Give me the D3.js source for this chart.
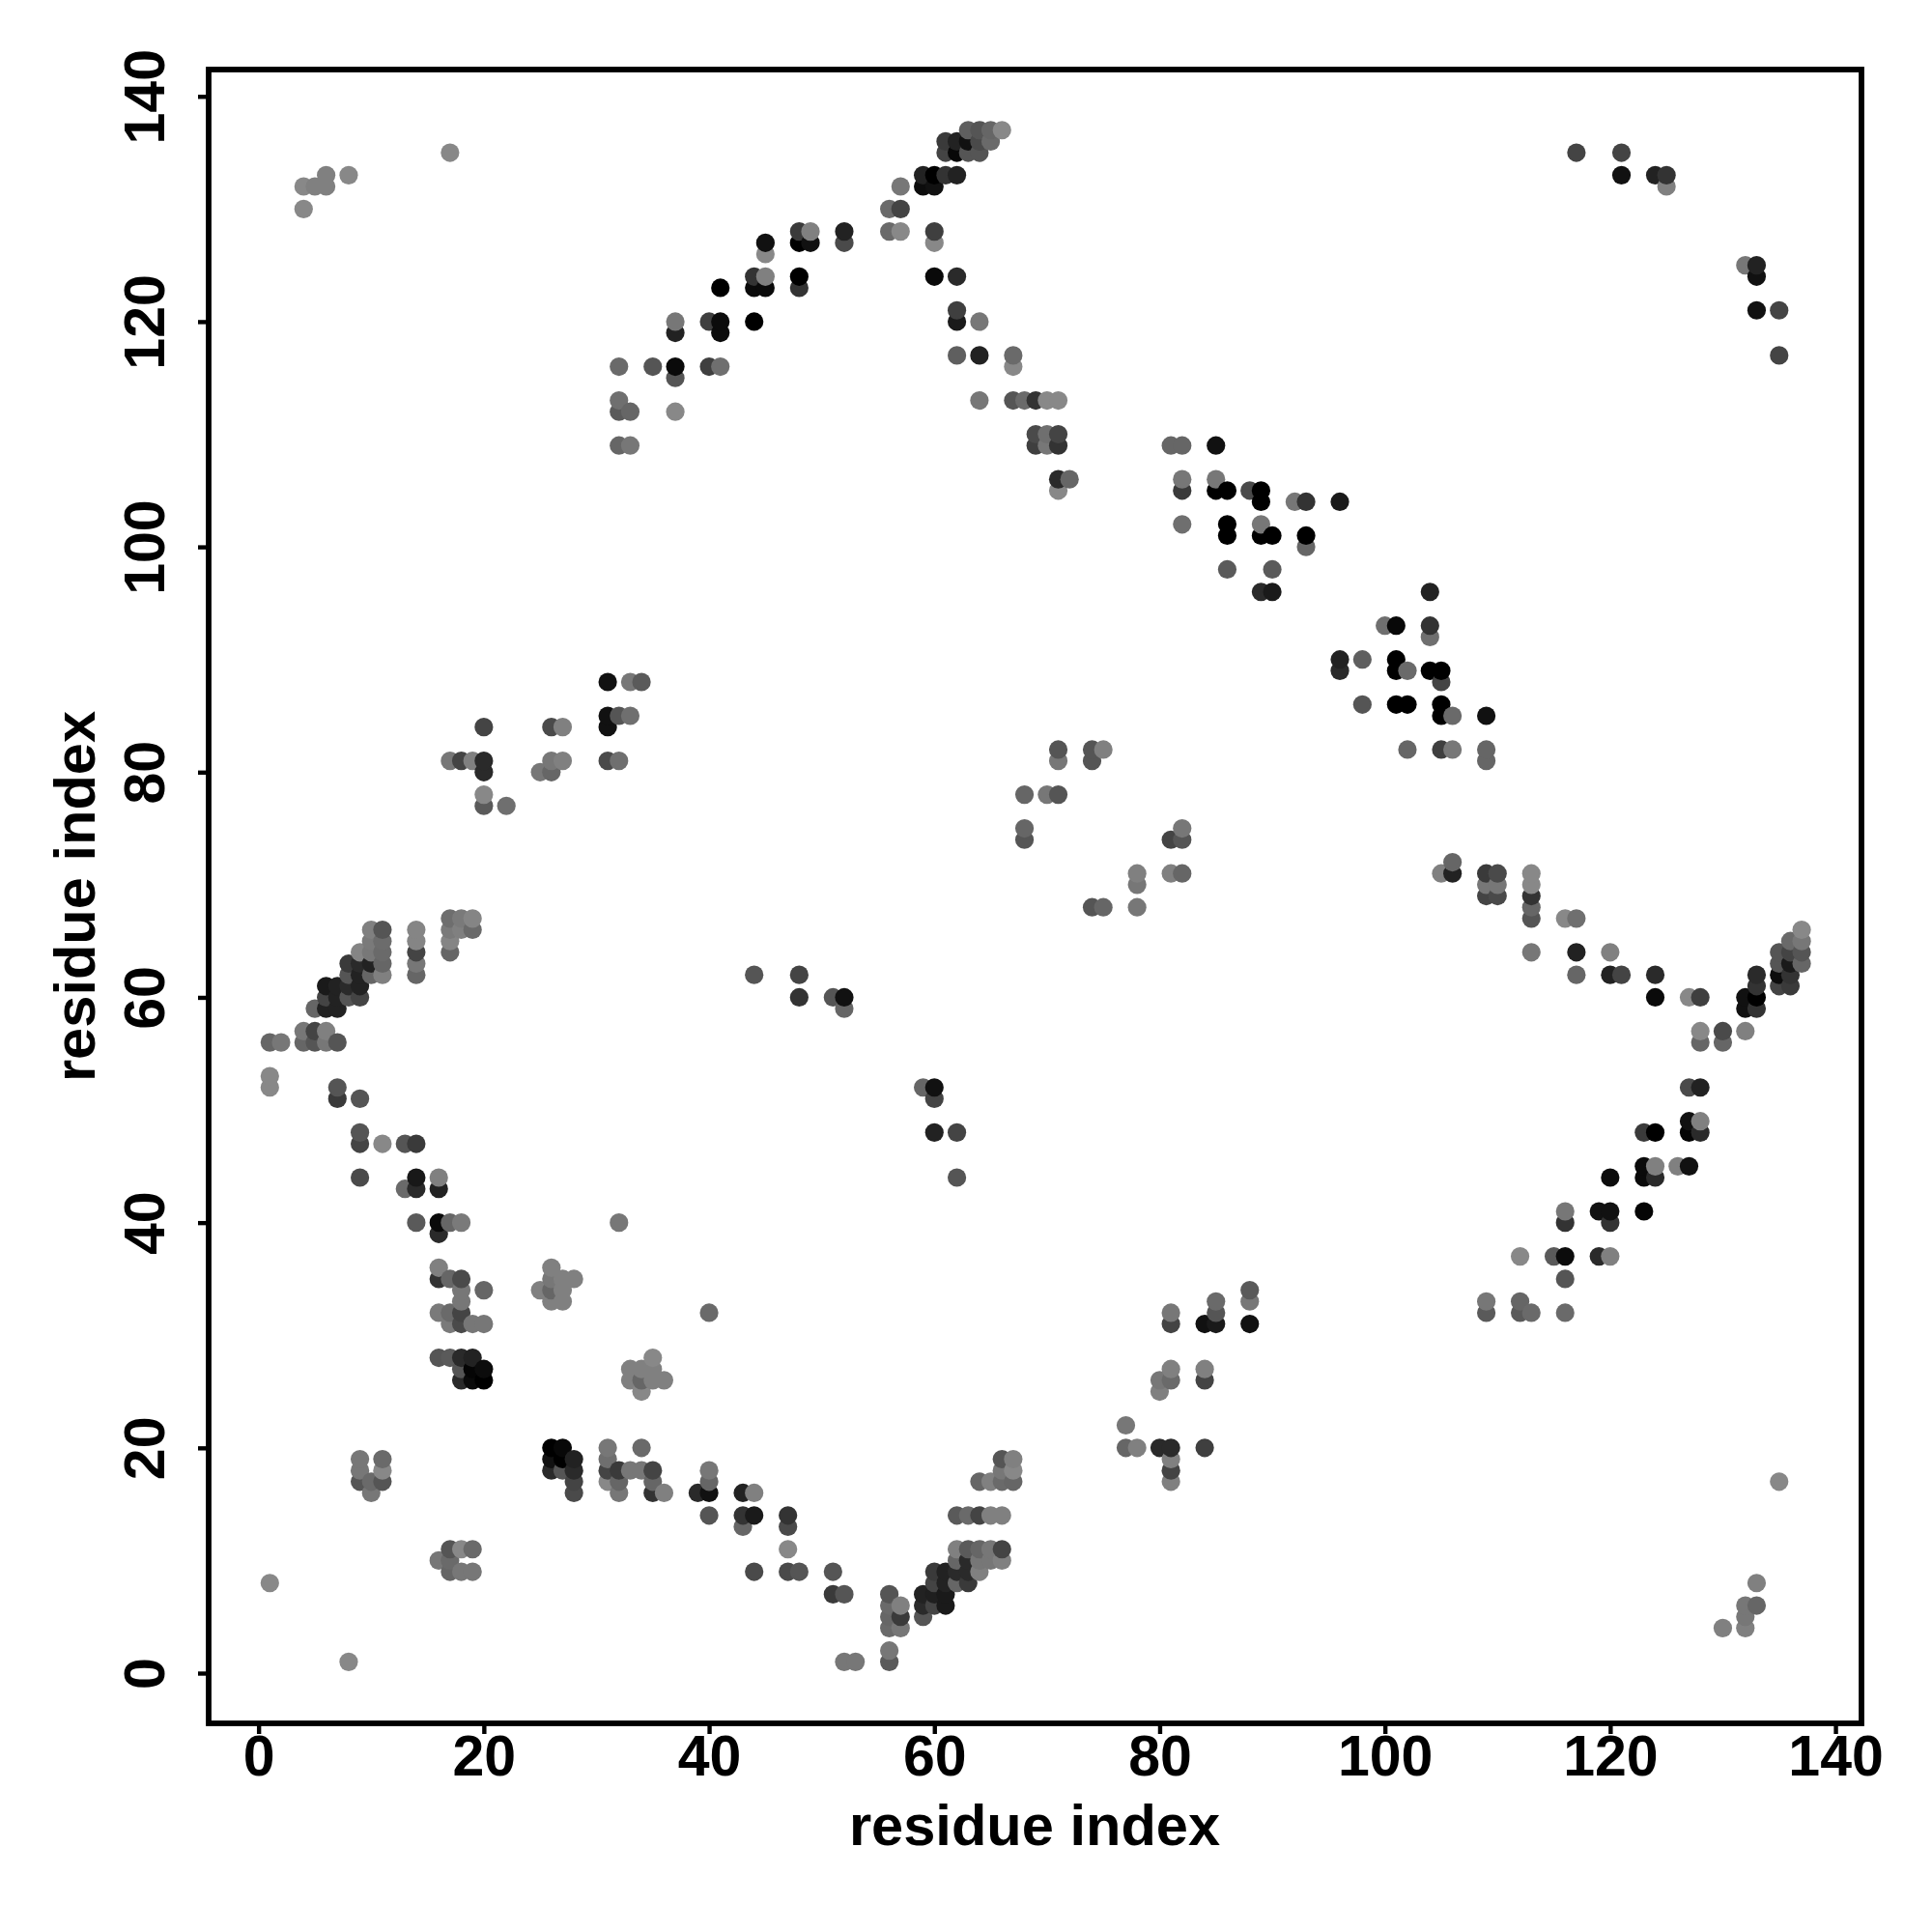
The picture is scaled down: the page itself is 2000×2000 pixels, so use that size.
<!DOCTYPE html>
<html>
<head>
<meta charset="utf-8">
<script src="https://cdn.jsdelivr.net/npm/d3@7/dist/d3.min.js"></script>
<style>
html,body{margin:0;padding:0;background:#fff}
svg{display:block}
text{font-family:"Liberation Sans",Arial,sans-serif;font-weight:bold;fill:#000}
</style>
</head>
<body>
<svg id="chart" width="2000" height="2000"></svg>
<script>
// Each contact: [residue index x, residue index y, grey level]
const helixOneContacts = [
[17,67,110],[18,67,122],[19,67,133],[10,66,128],[11,66,85],[14,66,133],[17,66,122],[18,66,128],[19,66,106],
[10,65,122],[11,65,108],[14,65,133],[17,65,133],[9,64,133],[10,64,120],[11,64,106],[14,64,68],[17,64,102],
[8,63,58],[9,63,42],[10,63,34],[11,63,102],[14,63,119],[8,62,85],[9,62,34],[10,62,102],[11,62,128],[14,62,102],
[6,61,26],[7,61,34],[8,61,42],[9,61,34],[6,60,68],[7,60,34],[8,60,85],[9,60,68],[5,59,102],[6,59,34],[7,59,34],
[4,57,119],[5,57,68],[6,57,128],[1,56,102],[2,56,119],[4,56,102],[5,56,85],[6,56,119],[7,56,85],
[1,53,136],[1,52,136],[7,52,85],[7,51,58],[9,51,85],[9,48,85],[9,47,68],[11,47,136],[13,47,85],[14,47,58],
[9,44,74],[13,43,106],[14,44,24],[14,43,42],[16,44,128],[16,43,34],[14,40,90],[16,40,10],[16,39,42],[17,40,102],[18,40,122]
];
const lowerLeftContacts = [
[16,36,128],[16,35,51],[17,35,102],[18,35,74],[18,34,119],[20,34,102],[18,33,119],[16,32,122],[17,32,106],[18,32,68],
[17,31,122],[18,31,74],[19,31,119],[20,31,119],[16,28,85],[17,28,90],[18,28,42],[19,28,34],[18,27,85],[19,27,5],[20,27,12],
[18,26,42],[19,26,10],[20,26,0],[26,36,128],[26,35,119],[27,35,128],[28,35,128],[25,34,128],[26,34,102],[27,34,128],
[26,33,128],[27,33,128],[35,28,136],[33,27,128],[34,27,128],[35,27,128],[33,26,128],[34,26,102],[35,26,128],[36,26,128],[34,25,136],
[32,40,119],[40,32,106],[9,19,119],[9,18,119],[9,17,85],[10,17,106],[10,16,119],[11,19,106],[11,18,136],[11,17,85],
[16,10,119],[17,11,85],[17,10,106],[17,9,102],[18,11,136],[18,9,119],[19,11,106],[19,9,119],[1,8,136],[8,1,136]
];
const lowerStrandContacts = [
[26,20,0],[27,20,8],[26,19,17],[27,19,0],[28,19,34],[26,18,42],[27,18,85],[28,18,42],[28,17,68],[28,16,74],
[31,20,119],[31,19,111],[31,18,68],[31,17,136],[32,18,58],[32,17,102],[32,16,119],[33,18,119],[34,20,106],[34,18,119],
[35,18,68],[35,17,102],[35,16,51],[36,16,128],[40,18,119],[40,17,102],[39,16,42],[40,16,17],[40,14,85],[43,16,34],[44,16,128],
[43,14,51],[44,14,26],[43,13,102],[47,14,51],[47,13,74],[47,11,136],[44,9,74],[47,9,74],[48,9,85],[51,9,85],[51,7,58],[52,7,85],
[56,7,85],[56,6,106],[57,6,128],[56,5,102],[57,5,58],[56,4,106],[57,4,119],[52,1,119],[53,1,119],[56,2,119],[56,1,90],
[59,7,34],[59,6,42],[59,5,85],[60,9,58],[60,8,68],[60,7,31],[60,6,68],[61,9,34],[61,8,34],[61,7,26],[61,6,26],
[62,11,128],[62,10,102],[62,9,42],[62,8,102],[63,11,90],[63,10,42],[63,9,42],[63,8,58],[64,11,102],[64,10,119],[64,9,128],
[65,11,119],[65,10,119],[66,11,68],[66,10,128],[62,14,90],[63,14,106],[64,14,68],[65,14,128],[66,14,128],
[64,17,102],[65,17,128],[66,17,106],[67,17,102],[66,18,119],[67,18,136],[66,19,85],[67,19,128]
];
const lowerRightContacts = [
[81,32,119],[81,31,68],[84,31,17],[85,33,106],[85,32,85],[85,31,26],[88,34,90],[88,33,119],[88,31,17],
[81,27,128],[80,26,119],[81,26,106],[80,25,128],[84,27,128],[84,26,68],[77,22,119],[77,20,102],[78,20,128],
[80,20,42],[81,20,42],[81,19,128],[81,18,68],[81,17,128],[84,20,63],
[109,33,119],[109,32,90],[112,33,102],[112,32,90],[113,32,106],[116,32,106],[116,35,85],[112,37,136],[115,37,90],[116,37,12],
[119,37,42],[120,37,128],[116,41,119],[116,40,51],[119,41,17],[120,41,17],[120,40,51],[123,41,5],[120,44,12],
[123,45,10],[124,45,128],[123,44,10],[124,44,42],[126,45,128],[127,45,17],[123,48,58],[124,48,0],[127,49,17],[128,49,128],
[127,48,5],[128,48,42],[135,17,136],[130,4,128],[132,4,128],[132,5,119],[132,6,119],[133,6,102],[133,8,128]
];
const rightArmContacts = [
[105,71,128],[106,72,102],[106,71,34],[109,71,58],[110,71,74],[113,71,136],[109,70,119],[110,70,119],[113,70,136],
[109,69,68],[110,69,74],[113,69,51],[113,68,102],[113,67,85],[116,67,136],[117,67,111],[113,64,119],[117,64,34],[120,64,128],
[117,62,102],[120,62,34],[121,62,68],[124,62,42],[124,60,10],[127,60,136],[128,60,63],[128,57,136],[128,56,102],
[130,57,74],[130,56,102],[132,57,128],[127,52,74],[128,52,34],[133,62,42],[133,61,51],[133,60,0],[133,59,51],[132,60,17],[132,59,17],
[135,64,85],[135,63,85],[135,62,12],[135,61,68],[136,65,106],[136,64,68],[136,63,26],[136,62,51],[136,61,58],
[137,66,136],[137,65,119],[137,64,85],[137,63,102]
];
const diagonalContacts = [
[81,109,102],[82,109,102],[85,109,17],[82,106,119],[82,105,58],[85,106,119],[85,105,0],[86,105,0],[88,105,74],[89,105,0],[89,104,0],
[92,104,119],[93,104,51],[96,104,26],[82,102,111],[86,102,0],[86,101,0],[89,102,119],[89,101,0],[90,101,0],[93,101,0],[93,100,102],
[86,98,90],[90,98,90],[89,96,42],[90,96,26],[104,96,34],[100,93,111],[101,93,8],[104,93,51],[104,92,111],
[96,90,34],[98,90,95],[101,90,0],[96,89,42],[101,89,0],[102,89,106],[104,89,0],[105,89,0],[105,88,68],
[98,86,85],[101,86,0],[102,86,0],[105,86,0],[105,85,0],[106,85,106],[109,85,17],[102,82,102],[105,82,63],[106,82,119],[109,82,102],[109,81,102],
[64,113,119],[67,113,85],[68,113,106],[69,113,51],[70,113,136],[71,113,136],[69,110,74],[70,110,111],[71,110,68],
[69,109,63],[70,109,119],[71,109,51],[71,106,42],[72,106,102],[71,105,136]
];
const upperArcContacts = [
[63,137,95],[64,137,85],[65,137,102],[66,137,136],[61,136,58],[62,136,34],[63,136,17],[64,136,74],[65,136,106],
[61,135,68],[62,135,8],[63,135,85],[64,135,85],[59,133,34],[60,133,0],[61,133,51],[62,133,34],[59,132,12],[60,132,17],[57,132,119],
[56,130,106],[57,130,68],[56,128,106],[57,128,136],[60,128,63],[60,127,136],[48,128,58],[49,128,128],[48,127,0],[49,127,17],
[52,128,34],[52,127,74],[45,127,17],[45,126,136],[44,124,51],[45,124,128],[48,124,0],[60,124,10],[62,124,42],
[44,123,10],[45,123,10],[48,123,51],[41,123,0],[62,121,63],[62,120,26],[64,120,119],[37,120,119],[40,120,63],[41,120,12],[44,120,0],
[37,119,34],[41,119,12],[62,117,95],[64,117,34],[67,117,106],[67,116,136],[32,116,106],[35,116,85],[37,116,10],[40,116,63],[41,116,111],
[37,115,85],[32,113,111],[32,112,90],[33,112,102],[37,112,136],[32,109,102],[33,109,119]
];
const cornerContacts = [
[17,135,136],[6,133,128],[8,133,136],[4,132,136],[5,132,128],[6,132,128],[4,130,136],
[117,135,68],[121,135,68],[121,133,17],[124,133,34],[125,133,51],[125,132,128],
[132,125,119],[133,125,34],[133,124,17],[133,121,17],[135,121,68],[135,117,68]
];
const centreContacts = [
[31,88,17],[33,88,119],[34,88,90],[31,85,17],[32,85,85],[33,85,111],[31,84,17],[20,84,68],[26,84,74],[27,84,128],
[17,81,119],[18,81,68],[19,81,128],[20,81,42],[20,80,42],[26,81,119],[27,81,128],[25,80,119],[26,80,102],[31,81,74],[32,81,111],
[20,78,136],[20,77,90],[22,77,111],[44,62,85],[48,62,68],[48,60,51],[51,60,85],[52,60,17],[52,59,102],
[59,52,102],[60,52,17],[60,51,68],[60,48,34],[62,48,68],[62,44,85],[68,78,102],[70,78,119],[71,78,85],[71,82,85],[71,81,119],
[74,82,85],[74,81,85],[75,82,128],[68,75,102],[68,74,85],[74,68,85],[75,68,102],[78,68,119],[78,70,119],[78,71,128],
[81,74,68],[82,74,85],[82,75,119],[81,71,128],[82,71,102]
];
const tickValues = [0,20,40,60,80,100,120,140];
const axisTitle = "residue index";

const points = [].concat(helixOneContacts, lowerLeftContacts, lowerStrandContacts, lowerRightContacts,
  rightArmContacts, diagonalContacts, upperArcContacts, cornerContacts, centreContacts)
  .sort((a,b) => d3.ascending(a[0],b[0]) || d3.ascending(a[1],b[1]));

const L = 216, R = 1927, T = 72, B = 1784;
const x = d3.scaleLinear().domain([-4.43,142.31]).range([L,R]);
const y = d3.scaleLinear().domain([-4.46,142.38]).range([B,T]);
const svg = d3.select("#chart");

svg.append("g").selectAll("circle").data(points).join("circle")
  .attr("cx", d => x(d[0])).attr("cy", d => y(d[1])).attr("r", 9.6)
  .attr("fill", d => d3.rgb(d[2],d[2],d[2]).formatHex());

const gx = svg.append("g").attr("transform",`translate(0,${B})`)
  .call(d3.axisBottom(x).tickValues(tickValues).tickSize(11).tickPadding(0).tickFormat(d3.format("d")));
const gy = svg.append("g").attr("transform",`translate(${L},0)`)
  .call(d3.axisLeft(y).tickValues(tickValues).tickSize(11).tickPadding(0).tickFormat(d3.format("d")));
[gx,gy].forEach(g => {
  g.select(".domain").remove();
  g.selectAll(".tick line").attr("stroke","#000").attr("stroke-width",4.4);
  g.selectAll(".tick text").attr("font-size",59).attr("fill","#000");
});
gx.selectAll(".tick text").attr("dy",null).attr("y",54).attr("text-anchor","middle");
gy.selectAll(".tick text").attr("dy",null).attr("x",null).attr("y",null)
  .attr("transform","translate(-46,0) rotate(-90)").attr("text-anchor","middle");

svg.append("rect").attr("x",L).attr("y",T).attr("width",R-L).attr("height",B-T)
  .attr("fill","none").attr("stroke","#000").attr("stroke-width",5.8);

svg.append("text").attr("x",1071).attr("y",1910).attr("text-anchor","middle").attr("font-size",59.6).text(axisTitle);
svg.append("text").attr("transform","translate(98,928) rotate(-90)").attr("text-anchor","middle").attr("font-size",59.6).text(axisTitle);
</script>
</body>
</html>
